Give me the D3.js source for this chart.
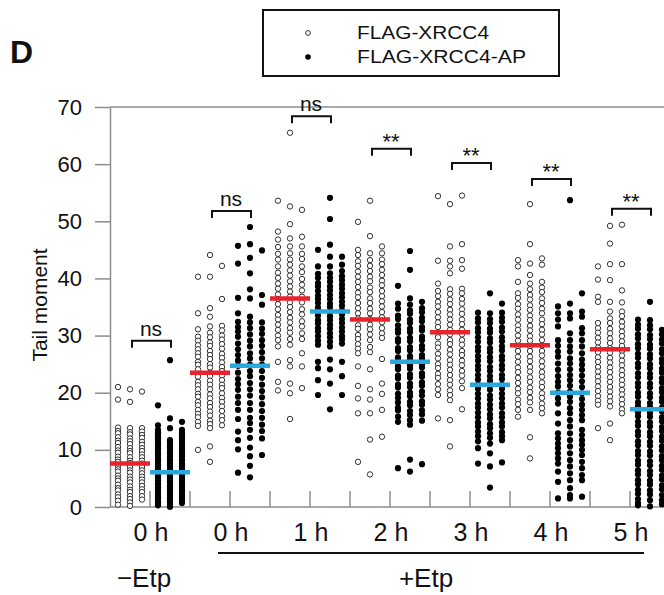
<!DOCTYPE html>
<html>
<head>
<meta charset="utf-8">
<script src="https://cdn.jsdelivr.net/npm/d3@7"></script>
<style>
  body { margin: 0; background: #fff; }
  text { font-family: "Liberation Sans", Arial, sans-serif; fill: #111; }
</style>
</head>
<body>
<div id="chart"></div>
<script>
// tick labels under each pair of columns
var tickLabels = ["0 h", "0 h", "1 h", "2 h", "3 h", "4 h", "5 h"];

// medians (red = FLAG-XRCC4, blue = FLAG-XRCC4-AP)
var wtMedians = [7.6, 23.5, 36.5, 32.8, 30.6, 28.3, 27.6];
var apMedians = [6.1, 24.7, 34.2, 25.4, 21.4, 20.0, 17.1];

// significance brackets
var sigLabels = ["ns", "ns", "ns", "**", "**", "**", "**"];
var sigTops = [29.1, 51.8, 68.4, 62.7, 60.2, 57.4, 52.2];

// tail moment of single cells, three columns per group
var wtNoEtp = [
  [21.0, 18.8, 13.9, 13.3, 12.9, 12.2, 11.6, 11.2, 10.5, 9.9, 9.5, 8.8, 8.3, 7.9, 7.2, 6.6, 6.2, 5.5, 5.0, 4.6, 3.9, 3.3, 2.9, 2.2, 1.7, 1.1, 0.4],
  [20.6, 18.4, 13.8, 13.1, 12.7, 12.0, 11.5, 11.0, 10.3, 9.8, 9.4, 8.7, 8.1, 7.7, 7.0, 6.4, 6.0, 5.3, 4.8, 4.3, 3.6, 3.0, 2.6, 1.9, 1.4, 0.8, 0.2],
  [20.2, 13.8, 13.2, 12.6, 12.1, 11.4, 10.9, 10.3, 9.8, 9.2, 8.7, 8.1, 7.6, 7.0, 6.4, 5.9, 5.3, 4.8, 4.3, 3.7, 3.1, 2.6, 1.9, 1.3]
];
var apNoEtp = [
  [17.8, 14.3, 13.5, 13.1, 12.7, 12.2, 11.8, 11.4, 11.0, 10.6, 10.2, 9.9, 9.4, 9.1, 8.6, 8.3, 7.9, 7.4, 7.1, 6.6, 6.2, 5.9, 5.4, 5.1, 4.7, 4.2, 3.9, 3.4, 3.0, 2.7, 2.2, 1.8, 1.5, 1.0, 0.7, 0.3],
  [25.7, 15.5, 13.8, 11.7, 11.3, 10.8, 10.5, 10.0, 9.6, 9.3, 8.8, 8.4, 8.1, 7.6, 7.2, 6.9, 6.4, 6.0, 5.7, 5.2, 4.8, 4.5, 4.0, 3.6, 3.2, 2.8, 2.3, 2.0, 1.5, 1.2, 0.8, 0.4, 0.0],
  [14.9, 13.5, 13.0, 12.7, 12.2, 11.8, 11.4, 10.9, 10.6, 10.1, 9.7, 9.3, 8.9, 8.4, 8.1, 7.6, 7.2, 6.9, 6.4, 6.0, 5.6, 5.1, 4.8, 4.3, 3.9, 3.5, 3.0, 2.7, 2.2, 1.8, 1.4, 1.1, 0.7]
];
var wt0h = [
  [40.3, 33.9, 31.1, 29.8, 29.1, 28.3, 27.6, 26.9, 26.3, 25.4, 24.9, 24.1, 23.3, 22.8, 21.9, 21.3, 20.6, 19.8, 19.3, 18.4, 17.8, 17.0, 16.3, 15.7, 14.9, 14.2, 10.0],
  [44.1, 40.3, 34.8, 33.3, 31.6, 30.5, 29.7, 28.8, 28.2, 27.3, 26.6, 25.9, 25.0, 24.4, 23.5, 22.9, 22.1, 21.4, 20.6, 19.7, 19.0, 18.2, 17.5, 16.7, 16.0, 15.1, 14.5, 13.8, 10.6, 7.9],
  [42.2, 36.4, 31.7, 30.9, 30.0, 29.3, 28.5, 27.7, 26.8, 26.1, 25.3, 24.5, 23.8, 23.0, 22.2, 21.4, 20.8, 19.9, 19.1, 18.4, 17.6, 16.8, 15.9, 15.2, 14.3]
];
var ap0h = [
  [45.7, 42.6, 36.6, 33.9, 32.4, 31.5, 30.7, 29.8, 28.6, 27.6, 26.6, 25.6, 24.7, 23.5, 22.4, 21.5, 20.5, 19.3, 18.2, 17.0, 15.4, 13.2, 11.7, 10.1, 6.0],
  [49.0, 46.0, 43.6, 40.9, 38.1, 36.5, 33.3, 32.3, 31.3, 30.2, 29.1, 28.1, 26.9, 26.0, 24.9, 23.8, 22.9, 21.7, 20.6, 19.5, 18.2, 17.0, 15.6, 14.7, 13.5, 12.1, 10.4, 8.9, 7.2, 5.2],
  [44.9, 37.1, 35.4, 32.3, 31.2, 30.3, 29.2, 28.2, 27.1, 26.0, 24.9, 23.8, 22.6, 21.4, 20.3, 19.2, 18.0, 16.8, 15.6, 14.4, 13.3, 12.0, 9.1]
];
var wt1h = [
  [53.6, 48.2, 46.8, 45.5, 44.3, 43.3, 42.1, 41.0, 40.1, 39.1, 38.2, 37.2, 36.4, 35.5, 34.6, 33.6, 32.8, 31.9, 31.0, 30.0, 29.2, 28.1, 25.4, 21.9, 20.4],
  [65.5, 52.6, 49.5, 47.0, 45.6, 44.4, 43.3, 42.4, 41.4, 40.5, 39.5, 38.6, 37.7, 36.8, 35.8, 35.0, 34.1, 33.1, 32.3, 31.3, 30.5, 29.4, 28.4, 25.7, 24.6, 21.6, 19.9, 15.4],
  [52.0, 47.3, 45.6, 44.3, 43.4, 42.1, 41.1, 39.9, 38.9, 37.9, 36.8, 35.8, 34.6, 33.7, 32.5, 31.6, 30.4, 29.4, 26.9, 24.6, 20.8]
];
var ap1h = [
  [45.0, 42.1, 40.8, 40.1, 39.2, 38.6, 37.8, 37.0, 36.4, 35.7, 34.9, 34.3, 33.5, 32.7, 32.1, 31.3, 30.7, 29.9, 29.1, 28.4, 25.4, 24.3, 22.2, 19.6],
  [54.1, 50.4, 45.9, 43.8, 42.1, 40.9, 40.1, 39.4, 38.6, 37.9, 37.1, 36.4, 35.6, 35.0, 34.2, 33.4, 32.7, 31.9, 31.2, 30.4, 29.7, 28.9, 28.1, 25.8, 24.1, 21.6, 17.1],
  [43.8, 42.4, 41.3, 40.4, 39.7, 38.9, 38.2, 37.4, 36.7, 35.9, 35.2, 34.4, 33.7, 32.9, 32.2, 31.4, 30.7, 29.9, 29.3, 28.6, 25.4, 22.9, 19.6]
];
var wt2h = [
  [49.9, 45.0, 44.1, 43.0, 42.2, 41.2, 40.3, 39.4, 38.5, 37.5, 36.7, 35.7, 34.8, 33.9, 33.0, 31.8, 31.2, 30.1, 29.4, 28.5, 27.7, 26.9, 24.6, 21.2, 19.0, 16.4, 7.9],
  [53.6, 47.4, 44.4, 43.2, 42.2, 41.3, 40.3, 39.5, 38.4, 37.6, 36.5, 35.7, 34.7, 33.9, 32.9, 31.9, 31.1, 30.2, 29.2, 28.0, 27.1, 24.1, 20.6, 18.8, 16.4, 11.8, 5.7],
  [45.6, 44.4, 43.3, 42.5, 41.5, 40.6, 39.6, 38.8, 37.8, 36.9, 36.0, 35.1, 34.1, 33.2, 32.3, 31.3, 30.4, 29.6, 25.9, 21.6, 19.8, 17.0, 12.3]
];
var ap2h = [
  [38.7, 35.6, 34.7, 33.5, 32.9, 31.8, 31.1, 30.5, 29.4, 28.9, 27.8, 27.3, 26.2, 25.7, 24.6, 24.1, 23.0, 22.5, 21.4, 20.9, 19.8, 19.1, 18.3, 17.4, 16.9, 15.8, 14.9, 6.8],
  [44.8, 41.5, 36.5, 35.4, 34.4, 33.8, 32.8, 32.2, 31.2, 30.6, 29.6, 29.0, 28.0, 27.4, 26.4, 25.8, 24.8, 24.2, 23.2, 22.6, 21.6, 21.0, 20.0, 19.4, 18.4, 17.8, 16.8, 16.1, 15.2, 14.4, 8.3, 6.2],
  [35.9, 34.8, 34.1, 33.1, 32.5, 31.5, 30.9, 29.8, 29.2, 28.2, 27.6, 26.6, 26.0, 25.0, 24.4, 23.4, 22.8, 21.8, 21.2, 20.2, 19.5, 18.5, 17.9, 16.9, 16.2, 15.1, 7.5]
];
var wt3h = [
  [54.4, 43.1, 39.1, 37.8, 36.9, 35.9, 35.1, 34.1, 33.2, 32.3, 31.5, 30.4, 29.7, 28.6, 27.9, 26.8, 26.0, 25.0, 24.3, 23.3, 22.6, 21.5, 20.6, 19.6, 15.5],
  [53.0, 45.6, 43.1, 42.1, 40.9, 38.1, 37.3, 36.3, 35.5, 34.5, 33.7, 32.8, 31.9, 31.0, 30.2, 29.2, 28.5, 27.5, 26.7, 25.7, 24.9, 24.0, 23.1, 22.2, 21.4, 20.4, 19.6, 18.7, 15.2, 10.6],
  [54.5, 46.0, 43.2, 41.7, 38.2, 37.4, 36.4, 35.6, 34.6, 33.8, 32.8, 32.0, 31.0, 30.2, 29.2, 28.4, 27.3, 26.6, 25.6, 24.8, 23.8, 23.0, 22.0, 20.8, 17.1]
];
var ap3h = [
  [34.0, 33.0, 32.3, 31.3, 30.6, 29.7, 28.9, 28.0, 27.3, 26.4, 25.6, 24.7, 24.0, 23.1, 22.3, 21.4, 20.7, 19.8, 19.0, 18.1, 17.4, 16.5, 15.7, 14.8, 14.1, 13.2, 12.4, 11.5, 10.3, 7.6],
  [37.4, 33.9, 32.9, 32.2, 31.2, 30.5, 29.5, 28.8, 27.8, 27.1, 26.2, 25.5, 24.5, 23.8, 22.9, 22.1, 21.2, 20.5, 19.5, 18.8, 17.9, 17.1, 16.2, 15.5, 14.5, 13.8, 12.9, 12.1, 11.1, 9.4, 7.1, 3.4],
  [35.6, 34.0, 33.1, 32.4, 31.4, 30.7, 29.7, 29.0, 28.1, 27.4, 26.4, 25.7, 24.8, 24.1, 23.1, 22.4, 21.4, 20.7, 19.8, 19.0, 18.1, 17.4, 16.4, 15.7, 14.8, 14.1, 13.1, 12.4, 11.7, 7.8]
];
var wt4h = [
  [43.2, 42.1, 39.4, 37.4, 36.6, 35.5, 34.7, 33.7, 32.8, 31.8, 31.0, 30.0, 29.1, 28.1, 27.3, 26.3, 25.4, 24.4, 23.6, 22.6, 21.7, 20.7, 19.9, 18.8, 18.0, 17.0, 15.8],
  [53.0, 46.0, 42.6, 40.6, 39.1, 38.1, 37.1, 36.3, 35.3, 34.5, 33.5, 32.7, 31.7, 30.9, 29.9, 29.1, 28.1, 27.3, 26.3, 25.5, 24.5, 23.7, 22.7, 21.9, 20.9, 20.1, 19.1, 18.3, 17.0, 12.2, 8.5],
  [43.5, 42.4, 39.4, 38.4, 37.6, 36.5, 35.7, 34.7, 33.9, 32.8, 32.0, 31.0, 30.2, 29.2, 28.3, 27.3, 26.5, 25.5, 24.6, 23.6, 22.8, 21.8, 21.0, 19.9, 19.1, 18.1, 17.3, 16.4]
];
var ap4h = [
  [35.1, 33.9, 32.8, 31.6, 29.2, 28.2, 27.2, 26.3, 25.1, 24.0, 22.9, 21.9, 21.1, 20.0, 19.0, 18.1, 16.4, 14.6, 12.9, 12.0, 11.1, 10.3, 9.4, 8.5, 7.6, 6.2, 4.4, 1.5],
  [53.7, 35.6, 33.9, 33.0, 30.4, 29.2, 28.1, 27.2, 26.0, 25.1, 24.1, 23.1, 22.2, 21.2, 20.2, 19.3, 18.4, 17.3, 16.4, 15.2, 14.1, 12.9, 11.7, 10.6, 9.4, 8.2, 7.1, 5.9, 4.7, 3.3, 2.1, 1.5],
  [37.4, 34.2, 33.3, 31.3, 30.4, 29.2, 28.1, 26.9, 25.8, 24.9, 24.0, 23.0, 22.0, 21.0, 19.9, 18.9, 17.9, 17.0, 16.1, 15.2, 13.5, 12.6, 11.7, 10.9, 10.0, 9.1, 7.9, 6.8, 5.6, 4.7, 1.8]
];
var wt5h = [
  [42.1, 39.8, 36.8, 35.9, 32.2, 31.3, 30.5, 29.6, 28.8, 27.9, 27.1, 26.2, 25.4, 24.5, 23.7, 22.8, 22.0, 21.1, 20.3, 19.4, 18.6, 17.9, 13.8],
  [49.2, 46.1, 42.5, 39.7, 35.9, 34.2, 33.0, 32.2, 31.2, 30.4, 29.5, 28.7, 27.8, 27.0, 26.1, 25.3, 24.4, 23.6, 22.7, 21.9, 21.0, 20.2, 19.3, 18.5, 17.6, 14.6, 11.7],
  [49.4, 42.5, 37.9, 35.8, 34.2, 33.4, 32.4, 31.6, 30.7, 29.9, 29.0, 28.2, 27.3, 26.5, 25.6, 24.8, 23.9, 23.1, 22.2, 21.4, 20.5, 19.7, 18.8, 18.0, 17.1, 16.4]
];
var ap5h = [
  [32.8, 31.9, 31.2, 30.2, 29.5, 28.5, 27.8, 26.8, 26.1, 25.1, 24.4, 23.4, 22.7, 21.7, 21.0, 20.0, 19.3, 18.3, 17.6, 16.6, 15.9, 14.9, 14.2, 13.2, 12.5, 11.5, 10.8, 9.8, 9.1, 8.1, 7.4, 6.4, 5.7, 4.7, 4.0, 3.0, 2.3, 1.4, 0.7, 0.3],
  [35.9, 32.7, 31.8, 31.1, 30.1, 29.4, 28.4, 27.7, 26.7, 26.0, 25.0, 24.3, 23.3, 22.6, 21.6, 20.9, 19.9, 19.2, 18.2, 17.5, 16.5, 15.8, 14.8, 14.1, 13.1, 12.4, 11.4, 10.7, 9.7, 9.0, 8.0, 7.3, 6.3, 5.6, 4.6, 3.9, 2.9, 2.2, 1.2, 0.1],
  [31.0, 30.2, 29.3, 28.6, 27.6, 26.9, 25.9, 25.2, 24.2, 23.5, 22.5, 21.8, 20.8, 20.1, 19.1, 18.4, 17.4, 16.7, 15.7, 15.0, 14.0, 13.3, 12.3, 11.6, 10.6, 9.9, 8.9, 8.2, 7.2, 6.5, 5.5, 4.8, 3.8, 3.1, 2.1, 1.2, 0.5]
];

var wtDots = [wtNoEtp, wt0h, wt1h, wt2h, wt3h, wt4h, wt5h];
var apDots = [apNoEtp, ap0h, ap1h, ap2h, ap3h, ap4h, ap5h];

var svgWidth = 664;
var svgHeight = 595;

var svg = d3.select("#chart")
  .append("svg")
  .attr("width", svgWidth)
  .attr("height", svgHeight);

// 14 sub-columns of 40 px, WT then AP for every time point
var x = d3.scaleBand()
  .domain(d3.range(14))
  .range([110, 670]);

var col = d3.scalePoint()
  .domain([0, 1, 2])
  .range([8, 32]);

var y = d3.scaleLinear()
  .domain([0, 70])
  .range([507, 107]);

var axisColor = "#8c8c8c";

// y axis
var leftAxis = d3.axisLeft(y)
  .tickValues(d3.range(0, 71, 10))
  .tickSize(15)
  .tickSizeOuter(0)
  .tickPadding(13);

var yAxis = svg.append("g")
  .attr("transform", "translate(110,0)")
  .call(leftAxis);

yAxis.selectAll("line").attr("stroke", axisColor).attr("stroke-width", 1.5);
yAxis.select(".domain").attr("stroke", axisColor).attr("stroke-width", 1.5);
yAxis.selectAll("text")
  .style("font-size", "22px")
  .style("font-family", "'Liberation Sans', Arial, sans-serif")
  .attr("fill", "#111");

// top and bottom frame lines
svg.append("line")
  .attr("x1", 110).attr("x2", svgWidth)
  .attr("y1", y(70)).attr("y2", y(70))
  .attr("stroke", axisColor).attr("stroke-width", 1.5);

svg.append("line")
  .attr("x1", 110).attr("x2", svgWidth)
  .attr("y1", y(0)).attr("y2", y(0))
  .attr("stroke", axisColor).attr("stroke-width", 1.5);

// divider ticks between sub-columns
svg.append("g")
  .selectAll("line")
  .data(d3.range(1, 14))
  .enter()
  .append("line")
  .attr("x1", d => x(d)).attr("x2", d => x(d))
  .attr("y1", y(0) - 16).attr("y2", y(0))
  .attr("stroke", axisColor).attr("stroke-width", 1.5);

// flatten dots
var points = [];
wtDots.forEach(function(group, g) {
  group.forEach(function(values, c) {
    values.forEach(function(v) {
      points.push({ band: 2 * g, col: c, value: v, open: true });
    });
  });
});
apDots.forEach(function(group, g) {
  group.forEach(function(values, c) {
    values.forEach(function(v) {
      points.push({ band: 2 * g + 1, col: c, value: v, open: false });
    });
  });
});

svg.append("g")
  .selectAll("circle")
  .data(points)
  .enter()
  .append("circle")
  .attr("cx", d => x(d.band) + col(d.col))
  .attr("cy", d => y(d.value))
  .attr("r", d => d.open ? 2.7 : 3.1)
  .attr("fill", d => d.open ? "#fff" : "#000")
  .attr("stroke", d => d.open ? "#333" : "none")
  .attr("stroke-width", 1);

// median bars
svg.append("g")
  .selectAll("line")
  .data(wtMedians)
  .enter()
  .append("line")
  .attr("x1", (d, i) => x(2 * i))
  .attr("x2", (d, i) => x(2 * i) + x.bandwidth())
  .attr("y1", d => y(d)).attr("y2", d => y(d))
  .attr("stroke", "#e8232b")
  .attr("stroke-width", 4.5);

svg.append("g")
  .selectAll("line")
  .data(apMedians)
  .enter()
  .append("line")
  .attr("x1", (d, i) => x(2 * i + 1))
  .attr("x2", (d, i) => x(2 * i + 1) + x.bandwidth())
  .attr("y1", d => y(d)).attr("y2", d => y(d))
  .attr("stroke", "#2aa7dc")
  .attr("stroke-width", 4.5);

// significance brackets
var sig = svg.append("g")
  .selectAll("g")
  .data(sigTops)
  .enter()
  .append("g");

sig.append("path")
  .attr("d", function(d, i) {
    var x0 = x(2 * i) + 22, x1 = x(2 * i + 1) + 21, yt = y(d);
    return "M" + x0 + "," + (yt + 7) + "V" + yt + "H" + x1 + "V" + (yt + 7);
  })
  .attr("fill", "none")
  .attr("stroke", "#111")
  .attr("stroke-width", 2);

sig.append("text")
  .attr("x", (d, i) => x(2 * i + 1) + 1)
  .attr("y", (d, i) => y(d) - (sigLabels[i] === "ns" ? 5 : 0))
  .attr("text-anchor", "middle")
  .style("font-size", (d, i) => sigLabels[i] === "ns" ? "21px" : "22px")
  .text((d, i) => sigLabels[i]);

// time labels
svg.append("g")
  .selectAll("text")
  .data(tickLabels)
  .enter()
  .append("text")
  .attr("x", (d, i) => x(2 * i + 1) + 1)
  .attr("y", 541)
  .attr("text-anchor", "middle")
  .style("font-size", "25px")
  .text(d => d);

// treatment labels
svg.append("line")
  .attr("x1", 218).attr("x2", 644)
  .attr("y1", 553).attr("y2", 553)
  .attr("stroke", "#111").attr("stroke-width", 2);

svg.append("text")
  .attr("x", 144).attr("y", 587)
  .attr("text-anchor", "middle")
  .style("font-size", "26px")
  .text("\u2212Etp");

svg.append("text")
  .attr("x", 426).attr("y", 587)
  .attr("text-anchor", "middle")
  .style("font-size", "26px")
  .text("+Etp");

// y axis title
svg.append("text")
  .attr("transform", "translate(47,305) rotate(-90)")
  .attr("text-anchor", "middle")
  .style("font-size", "21px")
  .text("Tail moment");

// panel letter
svg.append("text")
  .attr("x", 10).attr("y", 63)
  .style("font-size", "32px")
  .style("font-weight", "bold")
  .text("D");

// legend
var legend = svg.append("g");
legend.append("rect")
  .attr("x", 263).attr("y", 10)
  .attr("width", 296).attr("height", 66)
  .attr("fill", "#fff")
  .attr("stroke", "#111")
  .attr("stroke-width", 2);

legend.append("circle")
  .attr("cx", 308).attr("cy", 33).attr("r", 2.4)
  .attr("fill", "#fff").attr("stroke", "#333").attr("stroke-width", 1);
legend.append("circle")
  .attr("cx", 308).attr("cy", 57).attr("r", 2.8)
  .attr("fill", "#000");

legend.append("text")
  .attr("x", 357).attr("y", 39)
  .attr("textLength", 132)
  .attr("lengthAdjust", "spacingAndGlyphs")
  .style("font-size", "18px")
  .text("FLAG-XRCC4");
legend.append("text")
  .attr("x", 357).attr("y", 63)
  .attr("textLength", 169)
  .attr("lengthAdjust", "spacingAndGlyphs")
  .style("font-size", "18px")
  .text("FLAG-XRCC4-AP");
</script>
</body>
</html>
